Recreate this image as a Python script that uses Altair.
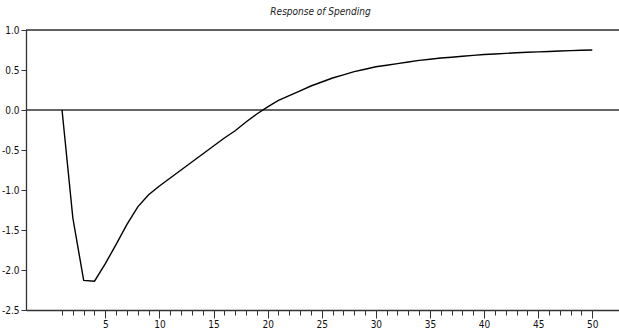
import altair as alt
import pandas as pd

periods = list(range(1, 51))
response = [0.0, -1.35, -2.13, -2.14, -1.92, -1.68, -1.43, -1.21, -1.06, -0.95,
            -0.85, -0.75, -0.65, -0.55, -0.45, -0.35, -0.26, -0.15, -0.05, 0.04,
            0.12, 0.18, 0.24, 0.30, 0.35, 0.40, 0.44, 0.48, 0.51, 0.54,
            0.56, 0.58, 0.60, 0.62, 0.635, 0.65, 0.66, 0.672, 0.683, 0.693,
            0.70, 0.708, 0.715, 0.721, 0.727, 0.732, 0.737, 0.742, 0.746, 0.75]
ref_lines = [1.0, 0.0]
y_ticks = [1.0, 0.5, 0.0, -0.5, -1.0, -1.5, -2.0, -2.5]
title_text = "Response of Spending"

FONT = "Liberation Sans Narrow, Arial Narrow, DejaVu Sans Condensed, sans-serif"

df = pd.DataFrame({"t": periods, "v": response})
rules = pd.DataFrame({"y": ref_lines})

xscale = alt.Scale(domain=[-2.33, 52.47], nice=False, zero=False)
yscale = alt.Scale(domain=[-2.5, 1.0], nice=False, zero=False)

xaxis = alt.Axis(
    values=periods,
    labelExpr="datum.value % 5 === 0 ? datum.label : ''",
    tickSize={"condition": {"test": "datum.value % 5 === 0", "value": 8}, "value": 5},
    grid=False, title=None, domainColor="#333", tickColor="#333",
    labelFont=FONT, labelFontSize=10, labelColor="#111", labelPadding=1,
    labelOverlap=False, labelFlush=False,
    domainWidth=1.3, tickWidth=1,
)
yaxis = alt.Axis(
    values=y_ticks,
    labelExpr="datum.value < 0 ? '-' + format(abs(datum.value), '.1f') : format(datum.value, '.1f')",
    tickSize=5, grid=False, title=None, domainColor="#333", tickColor="#333",
    labelFont=FONT, labelFontSize=10, labelColor="#111", labelPadding=2,
    labelOverlap=False, labelFlush=False,
    domainWidth=1.3, tickWidth=1,
)

line = alt.Chart(df).mark_line(color="black", strokeWidth=1.4).encode(
    x=alt.X("t:Q", scale=xscale, axis=xaxis),
    y=alt.Y("v:Q", scale=yscale, axis=yaxis),
)

rule = alt.Chart(rules).mark_rule(color="#333", strokeWidth=1.4).encode(
    y=alt.Y("y:Q", scale=yscale, axis=yaxis),
)

chart = alt.layer(rule, line).properties(
    width=593,
    height=280,
    padding={"left": 26, "top": 30, "right": 0, "bottom": 21},
    autosize=alt.AutoSizeParams(type="none"),
    title=alt.TitleParams(
        text=title_text, font=FONT, fontSize=10, fontStyle="italic",
        fontWeight="normal", color="#222", offset=8, dx=-2, anchor="middle",
    ),
).configure_view(stroke=None).configure_axis(labelOverlap=False).configure(background="white")

chart.save("out.html", embed_options={"renderer": "svg", "actions": False})
